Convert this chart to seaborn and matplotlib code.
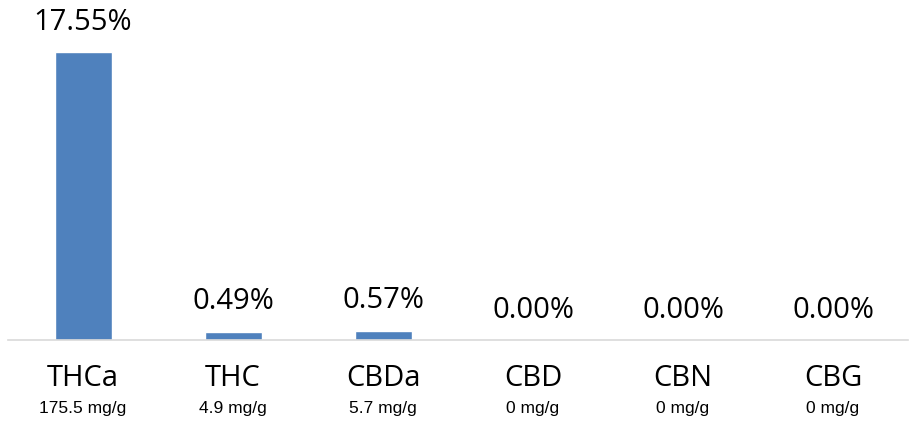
import matplotlib
matplotlib.use('Agg')
import matplotlib.pyplot as plt
import pandas as pd
import seaborn as sns

# Cannabinoid profile
cannabinoids = ['THCa', 'THC', 'CBDa', 'CBD', 'CBN', 'CBG']
percent = [17.55, 0.49, 0.57, 0.00, 0.00, 0.00]
mg_per_g = [175.5, 4.9, 5.7, 0, 0, 0]

df = pd.DataFrame({'cannabinoid': cannabinoids, 'percent': percent})

sns.set_style('white')

fig = plt.figure(figsize=(9.11, 4.21), dpi=100)
ax = fig.add_axes([8 / 911, 81 / 421, 900 / 911, 328 / 421])

sns.barplot(data=df, x='cannabinoid', y='percent', color='#4f81bd',
            saturation=1, width=0.38, ax=ax)

ax.set_ylim(0, 20)
ax.set_xlim(-0.5, len(cannabinoids) - 0.5)
for side in ['top', 'right', 'left']:
    ax.spines[side].set_visible(False)
ax.spines['bottom'].set_color('#d9d9d9')
ax.spines['bottom'].set_linewidth(1.2)
ax.set_xticks([])
ax.set_yticks([])
ax.set_xlabel('')
ax.set_ylabel('')

for i, (p, m) in enumerate(zip(percent, mg_per_g)):
    ax.annotate(f'{p:.2f}%', xy=(i, p), xytext=(0, 30), textcoords='offset pixels',
                ha='center', va='center', fontsize=21, family='Open Sans', color='black')
    ax.annotate(cannabinoids[i], xy=(i, 0), xytext=(0, -38), textcoords='offset pixels',
                ha='center', va='center', fontsize=21, family='Open Sans', color='black')
    ax.annotate(f'{m:g} mg/g', xy=(i, 0), xytext=(0, -68), textcoords='offset pixels',
                ha='center', va='center', fontsize=12.5, family='Liberation Sans', color='black')

fig.savefig('out.png', dpi=100)
